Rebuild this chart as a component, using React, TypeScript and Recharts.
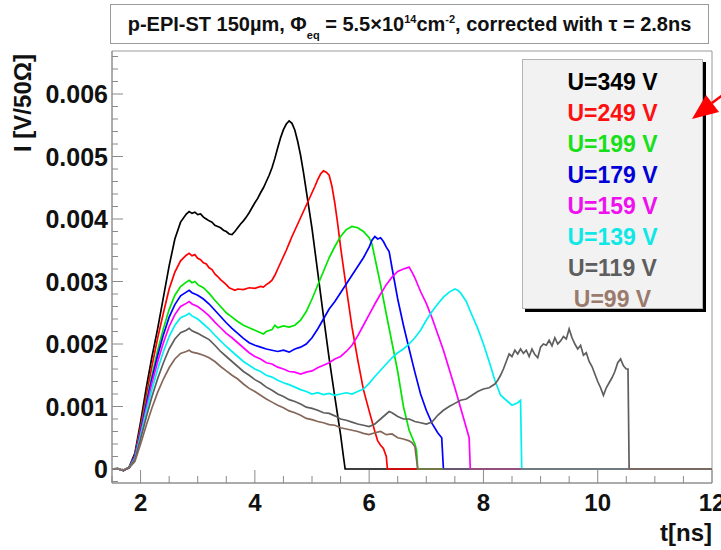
import React from "react"
import { LineChart, Line, XAxis, YAxis, ReferenceArea, Label } from "recharts"

// current in units of 1e-3 V/50Ω, time in ns: [t, I]
const u349: [number, number][] = [
  [1.5, 0], [1.6, 0.01], [1.7, -0.03], [1.8, 0.03], [1.9, 0.25], [2.0, 0.75], [2.1, 1.3], [2.2, 1.8],
  [2.3, 2.25], [2.4, 2.75], [2.5, 3.25], [2.6, 3.68], [2.7, 3.95], [2.8, 4.08], [2.85, 4.12], [2.9, 4.09],
  [2.95, 4.11], [3.0, 4.07], [3.05, 4.08], [3.1, 4.03], [3.15, 4.0], [3.2, 3.97], [3.25, 3.95], [3.3, 3.9],
  [3.35, 3.88], [3.4, 3.86], [3.45, 3.82], [3.5, 3.8], [3.55, 3.76], [3.6, 3.75], [3.65, 3.8], [3.7, 3.86],
  [3.75, 3.92], [3.8, 3.97], [3.85, 4.03], [3.9, 4.1], [3.95, 4.18], [4.0, 4.26], [4.05, 4.33], [4.1, 4.42],
  [4.15, 4.5], [4.2, 4.6], [4.25, 4.7], [4.3, 4.82], [4.35, 4.97], [4.4, 5.14], [4.45, 5.3], [4.5, 5.43],
  [4.55, 5.52], [4.6, 5.57], [4.65, 5.53], [4.7, 5.42], [4.75, 5.24], [4.8, 5.02], [4.85, 4.75], [4.9, 4.45],
  [4.95, 4.15], [5.0, 3.85], [5.1, 3.15], [5.2, 2.45], [5.3, 1.77], [5.4, 1.15], [5.5, 0.55], [5.55, 0.2],
  [5.58, 0], [12, 0],
]
const u249: [number, number][] = [
  [1.5, 0], [1.6, 0], [1.7, -0.02], [1.8, 0.03], [1.9, 0.22], [2.0, 0.68], [2.1, 1.18], [2.2, 1.65],
  [2.3, 2.1], [2.4, 2.5], [2.5, 2.88], [2.6, 3.15], [2.7, 3.33], [2.8, 3.42], [2.85, 3.45], [2.9, 3.41],
  [2.95, 3.43], [3.0, 3.37], [3.05, 3.35], [3.1, 3.3], [3.15, 3.28], [3.2, 3.22], [3.25, 3.19], [3.3, 3.12],
  [3.35, 3.08], [3.4, 3.03], [3.45, 2.99], [3.5, 2.95], [3.55, 2.9], [3.6, 2.88], [3.65, 2.86], [3.7, 2.88],
  [3.8, 2.87], [3.9, 2.9], [4.0, 2.89], [4.1, 2.92], [4.15, 2.91], [4.2, 2.95], [4.25, 2.98], [4.3, 3.02],
  [4.35, 3.1], [4.4, 3.2], [4.45, 3.3], [4.5, 3.4], [4.55, 3.5], [4.6, 3.61], [4.65, 3.72], [4.7, 3.82],
  [4.75, 3.92], [4.8, 4.02], [4.85, 4.12], [4.9, 4.22], [4.95, 4.32], [5.0, 4.42], [5.05, 4.52], [5.1, 4.63],
  [5.15, 4.72], [5.2, 4.77], [5.25, 4.75], [5.3, 4.7], [5.35, 4.52], [5.4, 4.25], [5.45, 3.92], [5.5, 3.55],
  [5.6, 2.9], [5.7, 2.27], [5.8, 1.75], [5.9, 1.27], [6.0, 0.93], [6.1, 0.6], [6.15, 0.45], [6.2, 0.38],
  [6.25, 0.33], [6.3, 0.2], [6.32, 0], [12, 0],
]
const u199: [number, number][] = [
  [1.5, 0], [1.6, 0], [1.7, -0.02], [1.8, 0.03], [1.9, 0.2], [2.0, 0.62], [2.1, 1.08], [2.2, 1.5],
  [2.3, 1.9], [2.4, 2.25], [2.5, 2.55], [2.6, 2.78], [2.7, 2.92], [2.8, 2.99], [2.85, 3.02], [2.9, 2.98],
  [2.95, 3.0], [3.0, 2.95], [3.1, 2.9], [3.2, 2.81], [3.3, 2.7], [3.4, 2.6], [3.5, 2.5], [3.6, 2.43],
  [3.7, 2.36], [3.8, 2.3], [3.9, 2.26], [4.0, 2.22], [4.1, 2.18], [4.15, 2.16], [4.2, 2.2], [4.3, 2.23],
  [4.35, 2.3], [4.4, 2.26], [4.5, 2.29], [4.6, 2.27], [4.7, 2.3], [4.8, 2.38], [4.9, 2.52], [5.0, 2.72],
  [5.1, 2.94], [5.2, 3.16], [5.3, 3.38], [5.4, 3.56], [5.5, 3.72], [5.6, 3.83], [5.7, 3.88], [5.8, 3.86],
  [5.9, 3.8], [6.0, 3.7], [6.05, 3.6], [6.1, 3.38], [6.2, 2.95], [6.3, 2.48], [6.4, 2.02], [6.5, 1.56],
  [6.6, 1.0], [6.7, 0.62], [6.8, 0.4], [6.83, 0.3], [6.85, 0], [12, 0],
]
const u179: [number, number][] = [
  [1.5, 0], [1.6, 0], [1.7, -0.02], [1.8, 0.02], [1.9, 0.2], [2.0, 0.6], [2.1, 1.04], [2.2, 1.45],
  [2.3, 1.82], [2.4, 2.15], [2.5, 2.43], [2.6, 2.63], [2.7, 2.77], [2.8, 2.83], [2.85, 2.86], [2.9, 2.82],
  [3.0, 2.78], [3.1, 2.72], [3.2, 2.64], [3.3, 2.54], [3.4, 2.44], [3.5, 2.34], [3.6, 2.25], [3.7, 2.17],
  [3.8, 2.09], [3.9, 2.02], [4.0, 1.98], [4.1, 1.95], [4.2, 1.92], [4.3, 1.9], [4.4, 1.88], [4.5, 1.9],
  [4.6, 1.87], [4.7, 1.92], [4.8, 1.95], [4.9, 2.0], [5.0, 2.1], [5.1, 2.24], [5.2, 2.4], [5.3, 2.56],
  [5.4, 2.68], [5.5, 2.82], [5.6, 2.96], [5.7, 3.1], [5.8, 3.24], [5.9, 3.38], [6.0, 3.55], [6.05, 3.66],
  [6.1, 3.72], [6.15, 3.68], [6.2, 3.7], [6.25, 3.64], [6.3, 3.55], [6.35, 3.48], [6.4, 3.22], [6.5, 2.72],
  [6.6, 2.3], [6.7, 1.92], [6.8, 1.55], [6.9, 1.2], [7.0, 0.94], [7.1, 0.73], [7.2, 0.58], [7.27, 0.5],
  [7.3, 0], [12, 0],
]
const u159: [number, number][] = [
  [1.5, 0], [1.6, 0], [1.7, -0.02], [1.8, 0.02], [1.9, 0.18], [2.0, 0.57], [2.1, 0.98], [2.2, 1.38],
  [2.3, 1.72], [2.4, 2.02], [2.5, 2.28], [2.6, 2.47], [2.7, 2.6], [2.8, 2.65], [2.85, 2.68], [2.9, 2.64],
  [3.0, 2.6], [3.1, 2.53], [3.2, 2.45], [3.3, 2.35], [3.4, 2.26], [3.5, 2.17], [3.6, 2.1], [3.7, 2.02],
  [3.8, 1.94], [3.9, 1.86], [4.0, 1.8], [4.1, 1.76], [4.2, 1.7], [4.3, 1.68], [4.4, 1.63], [4.5, 1.6],
  [4.6, 1.56], [4.7, 1.55], [4.8, 1.52], [4.9, 1.55], [5.0, 1.57], [5.1, 1.62], [5.2, 1.66], [5.3, 1.7],
  [5.4, 1.76], [5.5, 1.8], [5.6, 1.88], [5.7, 1.98], [5.8, 2.13], [5.9, 2.3], [6.0, 2.47], [6.1, 2.64],
  [6.2, 2.8], [6.3, 2.95], [6.4, 3.07], [6.5, 3.16], [6.6, 3.2], [6.7, 3.23], [6.75, 3.15], [6.8, 3.06],
  [6.9, 2.84], [7.0, 2.65], [7.1, 2.42], [7.2, 2.16], [7.3, 1.9], [7.4, 1.6], [7.5, 1.3], [7.6, 0.98],
  [7.7, 0.66], [7.75, 0.5], [7.77, 0], [12, 0],
]
const u139: [number, number][] = [
  [1.5, 0], [1.6, 0], [1.7, -0.02], [1.8, 0.02], [1.9, 0.17], [2.0, 0.53], [2.1, 0.92], [2.2, 1.28],
  [2.3, 1.6], [2.4, 1.88], [2.5, 2.12], [2.6, 2.3], [2.7, 2.42], [2.8, 2.46], [2.85, 2.49], [2.9, 2.45],
  [3.0, 2.4], [3.1, 2.32], [3.2, 2.24], [3.3, 2.14], [3.4, 2.05], [3.5, 1.96], [3.6, 1.88], [3.7, 1.8],
  [3.8, 1.72], [3.9, 1.66], [4.0, 1.6], [4.1, 1.56], [4.2, 1.5], [4.3, 1.47], [4.4, 1.42], [4.5, 1.38],
  [4.6, 1.35], [4.7, 1.31], [4.8, 1.27], [4.9, 1.24], [5.0, 1.2], [5.1, 1.22], [5.2, 1.19], [5.3, 1.21],
  [5.4, 1.18], [5.5, 1.2], [5.6, 1.22], [5.7, 1.2], [5.8, 1.24], [5.9, 1.28], [6.0, 1.37], [6.1, 1.48],
  [6.2, 1.58], [6.3, 1.68], [6.4, 1.78], [6.5, 1.86], [6.6, 1.92], [6.7, 2.0], [6.8, 2.1], [6.9, 2.22],
  [7.0, 2.38], [7.1, 2.52], [7.2, 2.64], [7.3, 2.75], [7.4, 2.83], [7.5, 2.88], [7.55, 2.86], [7.6, 2.82],
  [7.7, 2.68], [7.8, 2.46], [7.9, 2.25], [8.0, 2.0], [8.1, 1.72], [8.2, 1.42], [8.3, 1.18], [8.4, 1.1],
  [8.5, 1.02], [8.6, 1.06], [8.65, 1.1], [8.67, 0], [12, 0],
]
const u119: [number, number][] = [
  [1.5, 0], [1.6, 0], [1.7, -0.02], [1.8, 0.02], [1.9, 0.15], [2.0, 0.48], [2.1, 0.83], [2.2, 1.16],
  [2.3, 1.45], [2.4, 1.7], [2.5, 1.92], [2.6, 2.08], [2.7, 2.18], [2.8, 2.22], [2.85, 2.25], [2.9, 2.21],
  [3.0, 2.17], [3.1, 2.12], [3.2, 2.07], [3.3, 1.98], [3.4, 1.88], [3.5, 1.8], [3.6, 1.72], [3.7, 1.64],
  [3.8, 1.56], [3.9, 1.5], [4.0, 1.43], [4.1, 1.38], [4.2, 1.31], [4.3, 1.26], [4.4, 1.2], [4.5, 1.16],
  [4.6, 1.11], [4.7, 1.08], [4.8, 1.04], [4.9, 0.99], [5.0, 0.97], [5.1, 0.94], [5.2, 0.9], [5.3, 0.89],
  [5.4, 0.85], [5.5, 0.8], [5.6, 0.78], [5.7, 0.75], [5.8, 0.72], [5.9, 0.7], [6.0, 0.68], [6.1, 0.72],
  [6.2, 0.8], [6.3, 0.88], [6.35, 0.92], [6.4, 0.9], [6.5, 0.84], [6.6, 0.8], [6.7, 0.8], [6.8, 0.76],
  [6.9, 0.74], [7.0, 0.72], [7.1, 0.75], [7.2, 0.86], [7.3, 0.94], [7.4, 1.0], [7.5, 1.05], [7.6, 1.1],
  [7.7, 1.12], [7.8, 1.18], [7.9, 1.24], [8.0, 1.28], [8.1, 1.3], [8.2, 1.36], [8.25, 1.42], [8.3, 1.5],
  [8.35, 1.6], [8.4, 1.72], [8.45, 1.84], [8.5, 1.8], [8.55, 1.9], [8.6, 1.84], [8.65, 1.92], [8.7, 1.85],
  [8.75, 1.9], [8.8, 1.8], [8.85, 1.92], [8.9, 1.83], [8.95, 1.78], [9.0, 1.95], [9.05, 2.0], [9.1, 1.98],
  [9.15, 2.06], [9.2, 1.97], [9.25, 2.1], [9.3, 2.0], [9.35, 2.05], [9.4, 2.12], [9.45, 2.08], [9.5, 2.24],
  [9.55, 2.1], [9.6, 2.0], [9.65, 1.92], [9.7, 1.98], [9.75, 1.82], [9.8, 1.86], [9.85, 1.72], [9.9, 1.64],
  [9.95, 1.52], [10.0, 1.4], [10.05, 1.3], [10.1, 1.18], [10.15, 1.3], [10.2, 1.38], [10.25, 1.46],
  [10.3, 1.56], [10.35, 1.7], [10.4, 1.76], [10.45, 1.65], [10.5, 1.6], [10.53, 1.6], [10.55, 0], [12, 0],
]
const u99: [number, number][] = [
  [1.5, 0], [1.6, 0], [1.7, -0.02], [1.8, 0.02], [1.9, 0.12], [2.0, 0.4], [2.1, 0.7], [2.2, 0.98],
  [2.3, 1.23], [2.4, 1.44], [2.5, 1.62], [2.6, 1.76], [2.7, 1.85], [2.8, 1.88], [2.85, 1.9], [2.9, 1.87],
  [3.0, 1.85], [3.1, 1.82], [3.2, 1.78], [3.3, 1.72], [3.4, 1.64], [3.5, 1.57], [3.6, 1.5], [3.7, 1.44],
  [3.8, 1.36], [3.9, 1.29], [4.0, 1.24], [4.1, 1.18], [4.2, 1.12], [4.3, 1.07], [4.4, 1.02], [4.5, 0.98],
  [4.6, 0.93], [4.7, 0.9], [4.8, 0.86], [4.9, 0.81], [5.0, 0.79], [5.1, 0.76], [5.2, 0.74], [5.3, 0.71],
  [5.4, 0.7], [5.5, 0.66], [5.6, 0.64], [5.7, 0.62], [5.8, 0.6], [5.9, 0.57], [6.0, 0.55], [6.1, 0.58],
  [6.2, 0.6], [6.3, 0.55], [6.4, 0.56], [6.5, 0.5], [6.6, 0.48], [6.7, 0.45], [6.75, 0.42], [6.8, 0.36],
  [6.85, 0], [12, 0],
]

const SERIES_NAMES = ["U=349 V", "U=249 V", "U=199 V", "U=179 V", "U=159 V", "U=139 V", "U=119 V", "U=99 V"]
const SERIES_DATA = [u349, u249, u199, u179, u159, u139, u119, u99]
const LINE_COLORS = ["#000000", "#ff0000", "#00e600", "#0000ff", "#ff00ff", "#00f0f0", "#5e5e5e", "#85675a"]
const TEXT_COLORS = ["#000000", "#ff1010", "#18e018", "#0000d8", "#ee10ee", "#10e8e8", "#5e5e5e", "#9a7a6c"]

const X_LABELS = [2, 4, 6, 8, 10, 12]
const Y_LABELS = [0, 1, 2, 3, 4, 5, 6]
const X_DOMAIN: [number, number] = [1.5, 12]
const Y_DOMAIN: [number, number] = [-0.224, 6.688]

const xTicks = Array.from({ length: 22 }, (_, i) => 1.5 + i * 0.5)
const yTicks = Array.from({ length: 35 }, (_, i) => Math.round((-0.2 + i * 0.2) * 10) / 10)

const FONT = "'Liberation Sans', Arial, sans-serif"
const AXIS = "#8a8a8a"

function XTick({ x, y, payload }: any) {
  const v = payload.value
  const major = X_LABELS.some((m) => Math.abs(m - v) < 1e-6)
  return (
    <g>
      <line x1={x} y1={y} x2={x} y2={y - (major ? 13 : 7)} stroke={AXIS} strokeWidth={1} />
      {major && (
        <text x={x} y={y + 28} textAnchor="middle" fontFamily={FONT} fontWeight="bold" fontSize={24} fill="#111">
          {v}
        </text>
      )}
    </g>
  )
}

function YTick({ x, y, payload }: any) {
  const v = payload.value
  const major = Y_LABELS.some((m) => Math.abs(m - v) < 1e-6)
  return (
    <g>
      <line x1={x} y1={y} x2={x + (major ? 11 : 6)} y2={y} stroke={AXIS} strokeWidth={1} />
      {major && (
        <text x={x - 4} y={y} dy="0.36em" textAnchor="end" fontFamily={FONT} fontWeight="bold" fontSize={25} fill="#111">
          {v === 0 ? "0" : (v / 1000).toFixed(3)}
        </text>
      )}
    </g>
  )
}

export default function App() {
  return (
    <div style={{ position: "absolute", left: 0, top: 0, width: 721, height: 550, background: "#fff", overflow: "hidden" }}>
      <LineChart width={721} height={550} margin={{ top: 51, right: 9, bottom: 0, left: 0 }}>
        <ReferenceArea
          x1={X_DOMAIN[0]}
          x2={X_DOMAIN[1]}
          y1={Y_DOMAIN[0]}
          y2={Y_DOMAIN[1]}
          fill="none"
          stroke="#9a9a9a"
          strokeWidth={1}
          ifOverflow="visible"
        />
        <XAxis
          type="number"
          dataKey="t"
          domain={X_DOMAIN}
          ticks={xTicks}
          interval={0}
          allowDataOverflow
          height={67}
          tickSize={0}
          tickMargin={0}
          tick={<XTick />}
          axisLine={{ stroke: AXIS }}
        >
          <Label
            content={({ viewBox }: any) => (
              <text
                x={(viewBox?.x ?? 112) + (viewBox?.width ?? 600)}
                y={(viewBox?.y ?? 483) + 58}
                textAnchor="end"
                fontFamily={FONT}
                fontWeight="bold"
                fontSize={24}
                fill="#111"
              >
                t[ns]
              </text>
            )}
          />
        </XAxis>
        <YAxis
          type="number"
          domain={Y_DOMAIN}
          ticks={yTicks}
          interval={0}
          allowDataOverflow
          width={112}
          tickSize={0}
          tickMargin={0}
          tick={<YTick />}
          axisLine={{ stroke: AXIS }}
        >
          <Label
            content={() => (
              <text
                x={0}
                y={0}
                transform="translate(31 103) rotate(-90)"
                textAnchor="middle"
                fontFamily={FONT}
                fontWeight="bold"
                fontSize={24}
                fill="#111"
              >
                I [V/50Ω]
              </text>
            )}
          />
        </YAxis>
        {SERIES_DATA.map((pts, i) => (
          <Line
            key={SERIES_NAMES[i]}
            data={pts.map(([t, v]) => ({ t, v }))}
            dataKey="v"
            name={SERIES_NAMES[i]}
            type="linear"
            stroke={LINE_COLORS[i]}
            strokeWidth={1.7}
            dot={false}
            activeDot={false}
            isAnimationActive={false}
          />
        ))}
      </LineChart>

      <div
        style={{
          position: "absolute",
          left: 110,
          top: 4,
          width: 599,
          height: 40,
          border: "1px solid #9a9a9a",
          boxSizing: "border-box",
          background: "#fff",
          fontFamily: FONT,
          fontWeight: "bold",
          fontSize: 20,
          color: "#111",
          textAlign: "center",
          lineHeight: "38px",
          whiteSpace: "nowrap",
        }}
      >
        p-EPI-ST 150µm, Φ<span style={{ fontSize: 11, position: "relative", top: 8 }}>eq</span> = 5.5×10
        <span style={{ fontSize: 11, position: "relative", top: -8 }}>14</span>cm
        <span style={{ fontSize: 11, position: "relative", top: -8 }}>-2</span>, corrected with τ = 2.8ns
      </div>

      <div
        style={{
          position: "absolute",
          left: 522,
          top: 59,
          width: 181,
          height: 250,
          boxSizing: "border-box",
          background: "#f2f2f2",
          border: "1px solid #b4b4b4",
          boxShadow: "3px 3px 0 #000",
          overflow: "hidden",
          paddingTop: 7,
          fontFamily: FONT,
          fontWeight: "bold",
          fontSize: 23,
          textAlign: "center",
        }}
      >
        {SERIES_NAMES.map((n, i) => (
          <div key={n} style={{ color: TEXT_COLORS[i], lineHeight: "31px", height: 31 }}>
            {n}
          </div>
        ))}
      </div>

      <svg width={721} height={550} style={{ position: "absolute", left: 0, top: 0, pointerEvents: "none" }}>
        <polygon points="692,119 706,95 719,112" fill="#ff0000" />
        <line x1={712} y1={103} x2={724} y2={94} stroke="#ff0000" strokeWidth={2.5} />
      </svg>
    </div>
  )
}
